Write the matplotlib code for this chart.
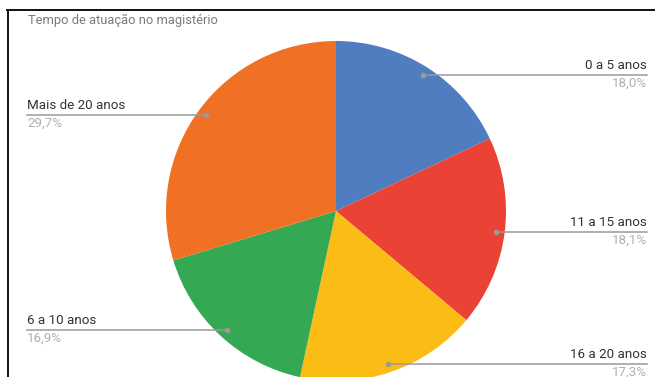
import numpy as np
import matplotlib
matplotlib.use("Agg")
import matplotlib.pyplot as plt

plt.rcParams['font.family'] = ['Roboto', 'DejaVu Sans']

# dados da pesquisa
categorias = ["0 a 5 anos", "11 a 15 anos", "16 a 20 anos", "6 a 10 anos", "Mais de 20 anos"]
percentuais = [18.0, 18.1, 17.3, 16.9, 29.7]
cores = ["#507cc0", "#ea4335", "#fbbc15", "#34a853", "#f07124"]
titulo = "Tempo de atuação no magistério"

W, H = 655, 377
fig = plt.figure(figsize=(W / 100, H / 100), dpi=100)
ax = fig.add_axes([0, 0, 1, 1])

cx, cy, R = 336, 166, 170
wedges, _ = ax.pie(percentuais, colors=cores, startangle=90, counterclock=False,
                   center=(cx, cy), radius=R, frame=True,
                   wedgeprops=dict(linewidth=0))
ax.set_xlim(0, W)
ax.set_ylim(0, H)
ax.set_aspect('equal')
ax.axis('off')

# moldura (topo e lateral esquerda)
ax.plot([7, W], [H - 10, H - 10], color='#111111', lw=1.4, clip_on=False)
ax.plot([7.5, 7.5], [H - 10, 0], color='#111111', lw=1.4, clip_on=False)

ax.text(28, H - 20, titulo, fontsize=9.3, color='#7a7a7a', va='center', ha='left')

# rótulos com linhas-guia
for w, nome, p in zip(wedges, categorias, percentuais):
    ang = np.deg2rad((w.theta1 + w.theta2) / 2)
    px = cx + 0.95 * R * np.cos(ang)
    py = cy + 0.95 * R * np.sin(ang)
    if np.cos(ang) >= 0:
        xe, ha = 647, 'right'
    else:
        xe, ha = 27, 'left'
    ax.plot([px, xe], [py, py], color='#9a9a9a', lw=1.1, zorder=3)
    ax.plot(px, py, 'o', color='#9a9a9a', ms=3, zorder=4)
    ax.text(xe, py + 3, nome, fontsize=9.6, color='#333333', ha=ha, va='bottom')
    ax.text(xe, py - 2, f"{p:.1f}%".replace('.', ','), fontsize=9.6,
            color='#b0b0b0', ha=ha, va='top')

fig.savefig("out.png", dpi=100, facecolor='white')
